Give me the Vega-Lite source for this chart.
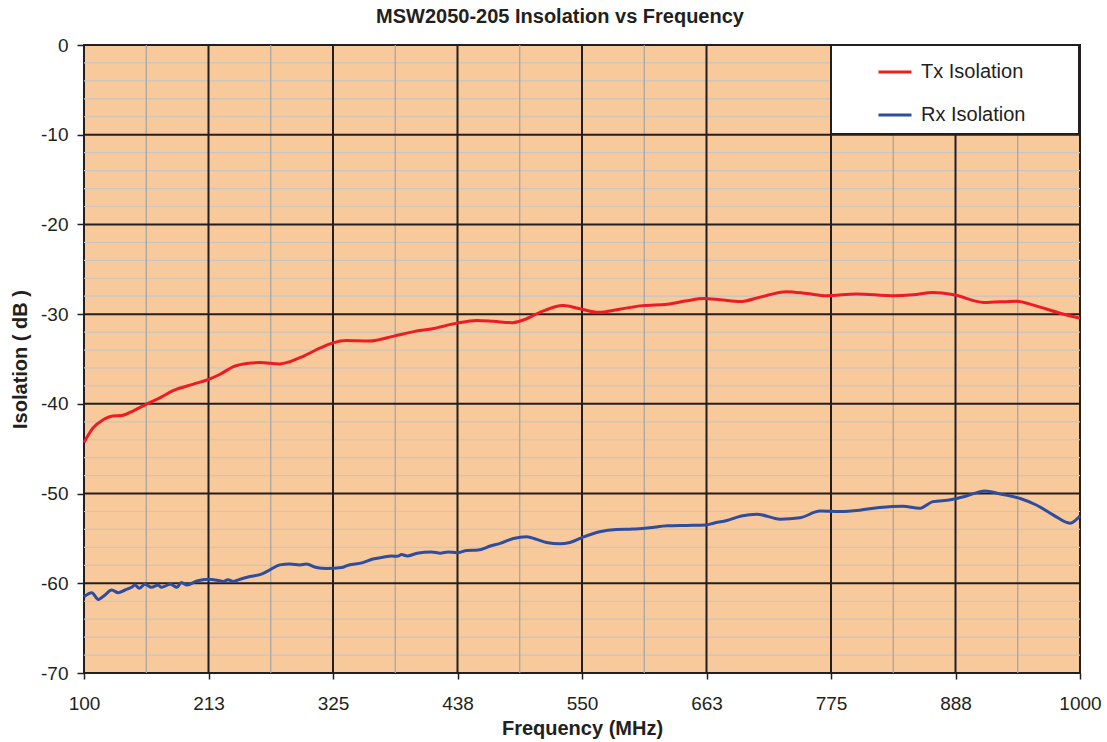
{
  "$schema": "https://vega.github.io/schema/vega-lite/v6.json",
  "width": 996,
  "height": 628,
  "autosize": {"type": "none"},
  "padding": {"left": 84, "top": 45, "right": 27, "bottom": 69},
  "background": "#ffffff",
  "title": {
    "text": "MSW2050-205 Insolation vs Frequency",
    "font": "Liberation Sans",
    "fontSize": 20,
    "fontWeight": "bold",
    "color": "#231f20",
    "anchor": "middle",
    "dx": -22,
    "offset": 9
  },
  "config": {
    "view": {"fill": "#f8c99b", "stroke": "#231f20", "strokeWidth": 2},
    "font": "Liberation Sans",
    "legend": {"strokeWidth": 2}
  },
  "resolve": {"axis": {"x": "independent", "y": "independent"}},
  "datasets": {
    "minorY": [
      {"v": -2}, {"v": -4}, {"v": -6}, {"v": -8},
      {"v": -12}, {"v": -14}, {"v": -16}, {"v": -18},
      {"v": -22}, {"v": -24}, {"v": -26}, {"v": -28},
      {"v": -32}, {"v": -34}, {"v": -36}, {"v": -38},
      {"v": -42}, {"v": -44}, {"v": -46}, {"v": -48},
      {"v": -52}, {"v": -54}, {"v": -56}, {"v": -58},
      {"v": -62}, {"v": -64}, {"v": -66}, {"v": -68}
    ],
    "minorX": [
      {"v": 156.25}, {"v": 268.75}, {"v": 381.25}, {"v": 493.75},
      {"v": 606.25}, {"v": 831.25}, {"v": 943.75}
    ],
    "majorY": [
      {"v": -10}, {"v": -20}, {"v": -30}, {"v": -40}, {"v": -50}, {"v": -60}
    ],
    "majorX": [
      {"v": 212.5}, {"v": 325}, {"v": 437.5}, {"v": 550}, {"v": 662.5}, {"v": 775}, {"v": 887.5}
    ],
    "curves": [
      {"series": "Tx Isolation", "freq": 100, "db": -44.3},
      {"series": "Tx Isolation", "freq": 108, "db": -42.7},
      {"series": "Tx Isolation", "freq": 117, "db": -41.8},
      {"series": "Tx Isolation", "freq": 126, "db": -41.35},
      {"series": "Tx Isolation", "freq": 134, "db": -41.3},
      {"series": "Tx Isolation", "freq": 145, "db": -40.75},
      {"series": "Tx Isolation", "freq": 157, "db": -40.0},
      {"series": "Tx Isolation", "freq": 169, "db": -39.3},
      {"series": "Tx Isolation", "freq": 181, "db": -38.5},
      {"series": "Tx Isolation", "freq": 199, "db": -37.8},
      {"series": "Tx Isolation", "freq": 212, "db": -37.3},
      {"series": "Tx Isolation", "freq": 223, "db": -36.7},
      {"series": "Tx Isolation", "freq": 235, "db": -35.85},
      {"series": "Tx Isolation", "freq": 247, "db": -35.5},
      {"series": "Tx Isolation", "freq": 259, "db": -35.4},
      {"series": "Tx Isolation", "freq": 277, "db": -35.55},
      {"series": "Tx Isolation", "freq": 286, "db": -35.3},
      {"series": "Tx Isolation", "freq": 298, "db": -34.7},
      {"series": "Tx Isolation", "freq": 313, "db": -33.8},
      {"series": "Tx Isolation", "freq": 325, "db": -33.2},
      {"series": "Tx Isolation", "freq": 337, "db": -32.95},
      {"series": "Tx Isolation", "freq": 358, "db": -33.0},
      {"series": "Tx Isolation", "freq": 380, "db": -32.45},
      {"series": "Tx Isolation", "freq": 398, "db": -31.95},
      {"series": "Tx Isolation", "freq": 416, "db": -31.6},
      {"series": "Tx Isolation", "freq": 437, "db": -31.0},
      {"series": "Tx Isolation", "freq": 455, "db": -30.7},
      {"series": "Tx Isolation", "freq": 470, "db": -30.8},
      {"series": "Tx Isolation", "freq": 487, "db": -30.95},
      {"series": "Tx Isolation", "freq": 497, "db": -30.65},
      {"series": "Tx Isolation", "freq": 512, "db": -29.8},
      {"series": "Tx Isolation", "freq": 533, "db": -29.05},
      {"series": "Tx Isolation", "freq": 548, "db": -29.4},
      {"series": "Tx Isolation", "freq": 565, "db": -29.8},
      {"series": "Tx Isolation", "freq": 584, "db": -29.45},
      {"series": "Tx Isolation", "freq": 605, "db": -29.05},
      {"series": "Tx Isolation", "freq": 627, "db": -28.9},
      {"series": "Tx Isolation", "freq": 645, "db": -28.5},
      {"series": "Tx Isolation", "freq": 660, "db": -28.25},
      {"series": "Tx Isolation", "freq": 675, "db": -28.4},
      {"series": "Tx Isolation", "freq": 693, "db": -28.6},
      {"series": "Tx Isolation", "freq": 711, "db": -28.1},
      {"series": "Tx Isolation", "freq": 735, "db": -27.5},
      {"series": "Tx Isolation", "freq": 753, "db": -27.7},
      {"series": "Tx Isolation", "freq": 771, "db": -27.95},
      {"series": "Tx Isolation", "freq": 798, "db": -27.75},
      {"series": "Tx Isolation", "freq": 831, "db": -27.95},
      {"series": "Tx Isolation", "freq": 849, "db": -27.85},
      {"series": "Tx Isolation", "freq": 867, "db": -27.6},
      {"series": "Tx Isolation", "freq": 886, "db": -27.85},
      {"series": "Tx Isolation", "freq": 913, "db": -28.7},
      {"series": "Tx Isolation", "freq": 943, "db": -28.55},
      {"series": "Tx Isolation", "freq": 958, "db": -29.0},
      {"series": "Tx Isolation", "freq": 982, "db": -29.9},
      {"series": "Tx Isolation", "freq": 1000, "db": -30.45},
      {"series": "Rx Isolation", "freq": 100, "db": -61.5},
      {"series": "Rx Isolation", "freq": 107, "db": -61.05},
      {"series": "Rx Isolation", "freq": 113, "db": -61.8},
      {"series": "Rx Isolation", "freq": 119, "db": -61.3},
      {"series": "Rx Isolation", "freq": 125, "db": -60.75},
      {"series": "Rx Isolation", "freq": 131, "db": -61.05},
      {"series": "Rx Isolation", "freq": 137, "db": -60.75},
      {"series": "Rx Isolation", "freq": 143, "db": -60.45},
      {"series": "Rx Isolation", "freq": 146, "db": -60.2},
      {"series": "Rx Isolation", "freq": 150, "db": -60.55},
      {"series": "Rx Isolation", "freq": 155, "db": -60.1},
      {"series": "Rx Isolation", "freq": 161, "db": -60.45},
      {"series": "Rx Isolation", "freq": 167, "db": -60.2},
      {"series": "Rx Isolation", "freq": 170, "db": -60.45},
      {"series": "Rx Isolation", "freq": 178, "db": -60.1},
      {"series": "Rx Isolation", "freq": 184, "db": -60.45},
      {"series": "Rx Isolation", "freq": 188, "db": -59.9},
      {"series": "Rx Isolation", "freq": 193, "db": -60.2},
      {"series": "Rx Isolation", "freq": 202, "db": -59.75},
      {"series": "Rx Isolation", "freq": 212, "db": -59.55},
      {"series": "Rx Isolation", "freq": 220, "db": -59.65},
      {"series": "Rx Isolation", "freq": 226, "db": -59.8},
      {"series": "Rx Isolation", "freq": 230, "db": -59.6},
      {"series": "Rx Isolation", "freq": 235, "db": -59.8},
      {"series": "Rx Isolation", "freq": 241, "db": -59.55},
      {"series": "Rx Isolation", "freq": 250, "db": -59.25},
      {"series": "Rx Isolation", "freq": 261, "db": -58.95},
      {"series": "Rx Isolation", "freq": 268, "db": -58.5},
      {"series": "Rx Isolation", "freq": 277, "db": -57.95},
      {"series": "Rx Isolation", "freq": 286, "db": -57.85},
      {"series": "Rx Isolation", "freq": 295, "db": -57.95},
      {"series": "Rx Isolation", "freq": 301, "db": -57.85},
      {"series": "Rx Isolation", "freq": 310, "db": -58.25},
      {"series": "Rx Isolation", "freq": 319, "db": -58.35},
      {"series": "Rx Isolation", "freq": 333, "db": -58.25},
      {"series": "Rx Isolation", "freq": 337, "db": -58.05},
      {"series": "Rx Isolation", "freq": 352, "db": -57.7},
      {"series": "Rx Isolation", "freq": 361, "db": -57.3},
      {"series": "Rx Isolation", "freq": 370, "db": -57.1},
      {"series": "Rx Isolation", "freq": 378, "db": -56.95},
      {"series": "Rx Isolation", "freq": 383, "db": -57.0},
      {"series": "Rx Isolation", "freq": 387, "db": -56.8},
      {"series": "Rx Isolation", "freq": 392, "db": -56.95},
      {"series": "Rx Isolation", "freq": 401, "db": -56.65},
      {"series": "Rx Isolation", "freq": 414, "db": -56.5},
      {"series": "Rx Isolation", "freq": 422, "db": -56.65},
      {"series": "Rx Isolation", "freq": 429, "db": -56.5},
      {"series": "Rx Isolation", "freq": 437, "db": -56.6},
      {"series": "Rx Isolation", "freq": 446, "db": -56.35},
      {"series": "Rx Isolation", "freq": 456, "db": -56.3},
      {"series": "Rx Isolation", "freq": 467, "db": -55.85},
      {"series": "Rx Isolation", "freq": 476, "db": -55.55},
      {"series": "Rx Isolation", "freq": 488, "db": -55.0},
      {"series": "Rx Isolation", "freq": 500, "db": -54.8},
      {"series": "Rx Isolation", "freq": 509, "db": -55.1},
      {"series": "Rx Isolation", "freq": 518, "db": -55.45},
      {"series": "Rx Isolation", "freq": 530, "db": -55.6},
      {"series": "Rx Isolation", "freq": 539, "db": -55.45},
      {"series": "Rx Isolation", "freq": 550, "db": -54.9},
      {"series": "Rx Isolation", "freq": 566, "db": -54.25},
      {"series": "Rx Isolation", "freq": 581, "db": -54.0},
      {"series": "Rx Isolation", "freq": 596, "db": -53.95},
      {"series": "Rx Isolation", "freq": 611, "db": -53.8},
      {"series": "Rx Isolation", "freq": 627, "db": -53.6},
      {"series": "Rx Isolation", "freq": 645, "db": -53.55},
      {"series": "Rx Isolation", "freq": 662, "db": -53.5},
      {"series": "Rx Isolation", "freq": 669, "db": -53.3},
      {"series": "Rx Isolation", "freq": 681, "db": -53.0},
      {"series": "Rx Isolation", "freq": 694, "db": -52.5},
      {"series": "Rx Isolation", "freq": 708, "db": -52.3},
      {"series": "Rx Isolation", "freq": 729, "db": -52.85},
      {"series": "Rx Isolation", "freq": 747, "db": -52.7},
      {"series": "Rx Isolation", "freq": 765, "db": -51.95},
      {"series": "Rx Isolation", "freq": 783, "db": -52.0},
      {"series": "Rx Isolation", "freq": 801, "db": -51.85},
      {"series": "Rx Isolation", "freq": 819, "db": -51.55},
      {"series": "Rx Isolation", "freq": 840, "db": -51.4},
      {"series": "Rx Isolation", "freq": 855, "db": -51.65},
      {"series": "Rx Isolation", "freq": 867, "db": -50.9},
      {"series": "Rx Isolation", "freq": 883, "db": -50.7},
      {"series": "Rx Isolation", "freq": 898, "db": -50.25},
      {"series": "Rx Isolation", "freq": 914, "db": -49.7},
      {"series": "Rx Isolation", "freq": 928, "db": -50.05},
      {"series": "Rx Isolation", "freq": 946, "db": -50.55},
      {"series": "Rx Isolation", "freq": 961, "db": -51.3},
      {"series": "Rx Isolation", "freq": 976, "db": -52.4},
      {"series": "Rx Isolation", "freq": 991, "db": -53.3},
      {"series": "Rx Isolation", "freq": 1000, "db": -52.5}
    ]
  },
  "layer": [
    {
      "data": {"name": "minorY"},
      "mark": {"type": "rule", "color": "#c9c5c0", "strokeWidth": 1.2},
      "encoding": {
        "y": {"field": "v", "type": "quantitative", "axis": null}
      }
    },
    {
      "data": {"name": "minorX"},
      "mark": {"type": "rule", "color": "#a3a3a3", "strokeWidth": 1.2},
      "encoding": {
        "x": {"field": "v", "type": "quantitative", "axis": null}
      }
    },
    {
      "data": {"name": "majorY"},
      "mark": {"type": "rule", "color": "#231f20", "strokeWidth": 2},
      "encoding": {
        "y": {"field": "v", "type": "quantitative", "axis": null}
      }
    },
    {
      "data": {"name": "majorX"},
      "mark": {"type": "rule", "color": "#231f20", "strokeWidth": 2},
      "encoding": {
        "x": {"field": "v", "type": "quantitative", "axis": null}
      }
    },
    {
      "data": {"name": "curves"},
      "mark": {"type": "line", "strokeWidth": 3, "interpolate": "monotone"},
      "encoding": {
        "x": {
          "field": "freq",
          "type": "quantitative",
          "scale": {"domain": [100, 1000], "nice": false, "zero": false},
          "axis": {
            "orient": "bottom",
            "title": "Frequency (MHz)",
            "values": [100, 212.5, 325, 437.5, 550, 662.5, 775, 887.5, 1000],
            "format": ".0f",
            "grid": false,
            "domain": false,
            "tickSize": 6,
            "tickColor": "#231f20",
            "tickWidth": 1.5,
            "labelFontSize": 19,
            "labelColor": "#231f20",
            "labelPadding": 15,
            "labelFlush": false,
            "titleFontSize": 20,
            "titleFontWeight": "bold",
            "titleColor": "#231f20",
            "titlePadding": 5
          }
        },
        "y": {
          "field": "db",
          "type": "quantitative",
          "scale": {"domain": [-70, 0], "nice": false, "zero": false},
          "axis": {
            "orient": "left",
            "title": "Isolation ( dB )",
            "values": [-70, -60, -50, -40, -30, -20, -10, 0],
            "labelExpr": "datum.value == 0 ? '0' : '-' + abs(datum.value)",
            "grid": false,
            "domain": false,
            "tickSize": 7,
            "tickColor": "#231f20",
            "tickWidth": 1.5,
            "labelFontSize": 19,
            "labelColor": "#231f20",
            "labelPadding": 9,
            "titleFontSize": 20,
            "titleFontWeight": "bold",
            "titleColor": "#231f20",
            "titlePadding": 10
          }
        },
        "color": {
          "field": "series",
          "type": "nominal",
          "scale": {"domain": ["Tx Isolation", "Rx Isolation"], "range": ["#ed1c24", "#2e4d9f"]},
          "legend": {
            "title": null,
            "orient": "none",
            "legendX": 747,
            "legendY": 0,
            "fillColor": "#ffffff",
            "strokeColor": "#231f20",
            "padding": 9,
            "symbolType": "stroke",
            "symbolSize": 1089,
            "symbolStrokeWidth": 3,
            "symbolOffset": 37,
            "labelOffset": 8,
            "labelFontSize": 20,
            "labelColor": "#231f20",
            "labelLimit": 300,
            "labelExpr": "datum.label + '\u00a0\u00a0\u00a0\u00a0\u00a0\u00a0\u00a0\u00a0\u200b'",
            "rowPadding": 15
          }
        }
      }
    }
  ]
}
